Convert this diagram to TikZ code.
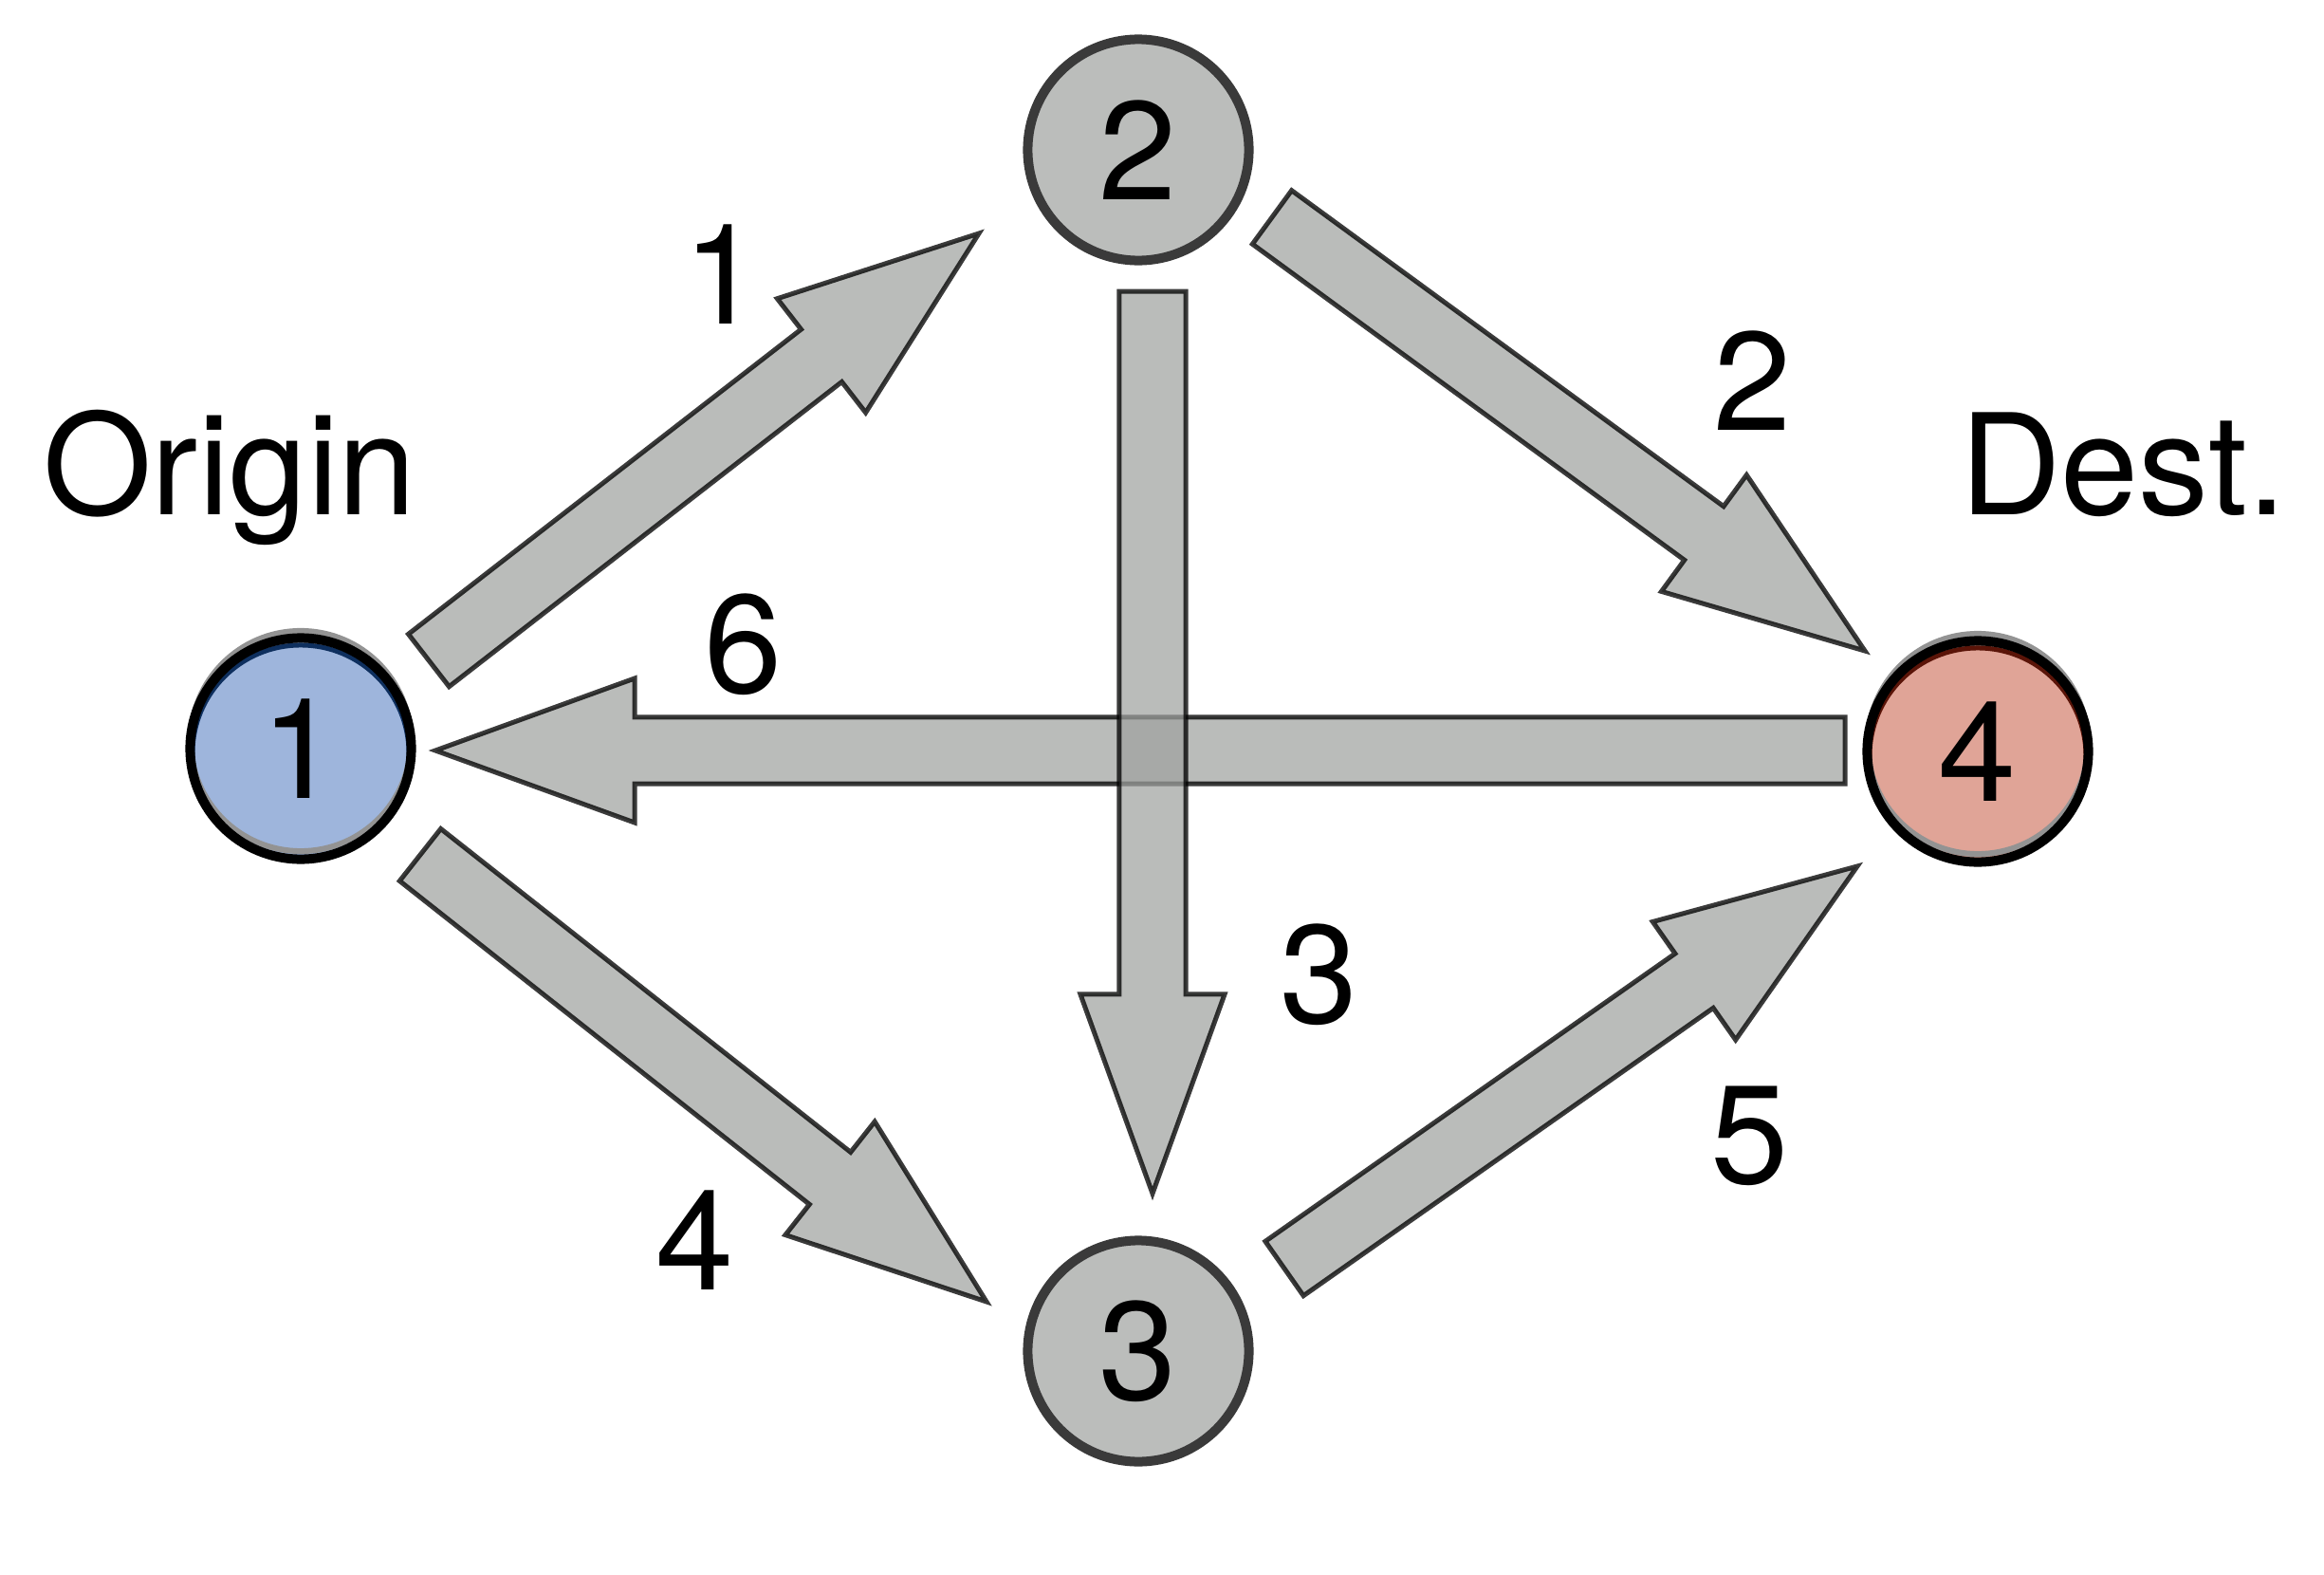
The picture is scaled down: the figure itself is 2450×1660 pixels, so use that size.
\documentclass[tikz,border=0pt]{standalone}
\usepackage{fontspec}
\setmainfont{TeX Gyre Heros}
\usetikzlibrary{calc,backgrounds}
\definecolor{vfill}{HTML}{BBBDBB}
\definecolor{vline}{HTML}{3A3A3A}
\definecolor{arrfill}{HTML}{A0A2A0}
\definecolor{origfill}{HTML}{9EB5DC}
\definecolor{origdark}{HTML}{0E2F5E}
\definecolor{destfill}{HTML}{E0A497}
\definecolor{destdark}{HTML}{5A1408}
\newcommand\bignum{\fontsize{42}{50}\selectfont}
% block arrow from #1 (tail) to #2 (tip)
\newcommand\flowarrow[2]{%
  \coordinate (hb) at ($(#2)!2.1cm!(#1)$);
  \draw[flow] ($(#1)!0.35cm!90:(#2)$) -- ($(hb)!0.35cm!-90:(#1)$)
    -- ($(hb)!0.76cm!-90:(#1)$) -- (#2)
    -- ($(hb)!0.76cm!90:(#1)$) -- ($(hb)!0.35cm!90:(#1)$)
    -- ($(#1)!0.35cm!-90:(#2)$) -- cycle;}
\tikzset{
  vtx/.style={circle,draw=vline,line width=1mm,fill=vfill,minimum size=2.33cm,inner sep=0pt,font=\bignum},
  endvtx/.style={vtx,draw=black,fill=#1fill,path picture={
      \draw[#1dark,line width=0.5mm] ([yshift=-0.05cm]path picture bounding box.center) circle (1.14cm);
      \draw[gray!85,line width=0.6mm] ([yshift=0.08cm]path picture bounding box.center) circle (1.16cm);}},
  halo/.style={draw=gray!85,line width=0.6mm},
  flow/.style={fill=arrfill,fill opacity=0.72,draw=black,draw opacity=0.77,line width=0.5mm},
  lbl/.style={anchor=base,font=\bignum,inner sep=0pt}
}
\begin{document}
\begin{tikzpicture}[x=0.01cm,y=-0.01cm]
\useasboundingbox (0,0) rectangle (2450,1660);
\node[endvtx=orig] (n1) at (317,789) {1};
\node[vtx] (n2) at (1200,158) {2};
\node[vtx] (n3) at (1200,1424) {3};
\node[endvtx=dest] (n4) at (2085,792) {4};
\begin{scope}[on background layer]
\draw[halo] ([yshift=0.08cm]n1.center) circle (1.16cm);
\draw[halo] ([yshift=0.08cm]n4.center) circle (1.16cm);
\end{scope}
% arrow ends
\coordinate (s12) at ($(n1)+(135,-93)$);  \coordinate (t12) at ($(n2)+(-168,88)$);
\coordinate (s24) at ($(n2)+(141,71)$);   \coordinate (t24) at ($(n4)+(-119,-106)$);
\coordinate (s41) at ($(n4)+(-140,-1)$);  \coordinate (t41) at ($(n1)+(142,2)$);
\coordinate (s23) at ($(n2)+(15,149)$);   \coordinate (t23) at ($(n3)+(15,-166)$);
\coordinate (s13) at ($(n1)+(126,112)$);  \coordinate (t13) at ($(n3)+(-160,-52)$);
\coordinate (s34) at ($(n3)+(154,-87)$);  \coordinate (t34) at ($(n4)+(-127,121)$);
\flowarrow{s12}{t12}
\flowarrow{s24}{t24}
\flowarrow{s41}{t41}
\flowarrow{s23}{t23}
\flowarrow{s13}{t13}
\flowarrow{s34}{t34}
% labels
\node[lbl] (origin) at (242,542) {Origin};
\node[lbl] (dest) at (2238,542) {Dest.};
\node[lbl] (w12) at (762,341) {1};
\node[lbl] (w24) at (1848,453) {2};
\node[lbl] (w41) at (784,730) {6};
\node[lbl] (w23) at (1391,1078) {3};
\node[lbl] (w13) at (733,1359) {4};
\node[lbl] (w34) at (1845,1247) {5};
\end{tikzpicture}
\end{document}
